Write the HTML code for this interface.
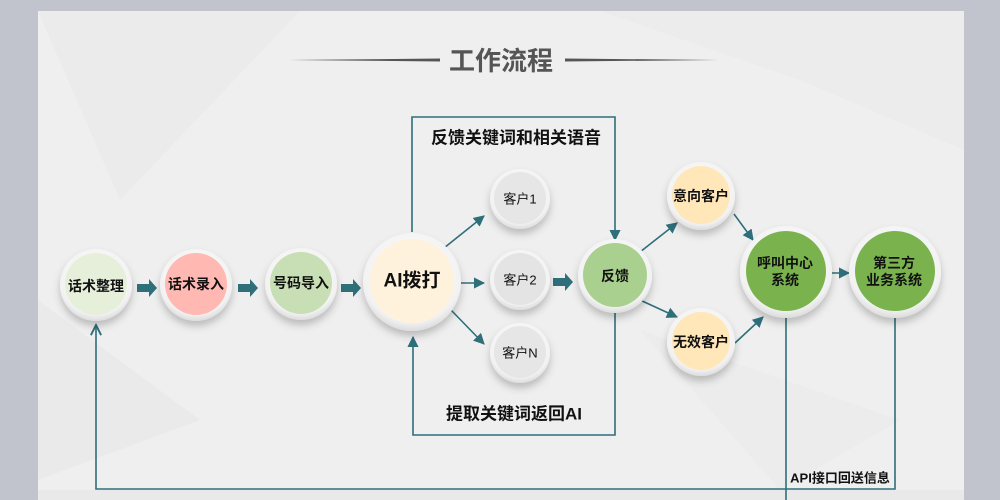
<!DOCTYPE html>
<html><head><meta charset="utf-8"><style>
html,body{margin:0;padding:0;width:1000px;height:500px;overflow:hidden;background:#c1c4cc;}
svg{display:block}
text{font-family:"Liberation Sans","Noto Sans CJK SC",sans-serif;font-weight:bold;fill:#111;text-anchor:middle;dominant-baseline:central}
</style></head><body>
<svg width="1000" height="500" viewBox="0 0 1000 500">
<defs>
<radialGradient id="ring" cx="50%" cy="40%" r="60%"><stop offset="0" stop-color="#fdfdfd"/><stop offset="0.85" stop-color="#f2f2f2"/><stop offset="1" stop-color="#dcdcdc"/></radialGradient>
<filter id="sh" x="-30%" y="-30%" width="160%" height="170%"><feDropShadow dx="0" dy="5" stdDeviation="4" flood-color="#000" flood-opacity="0.22"/></filter>
<marker id="ah" viewBox="0 0 10 10" refX="9" refY="5" markerWidth="7" markerHeight="7" orient="auto-start-reverse"><path d="M0,0 L10,5 L0,10 z" fill="#2e6f7a"/></marker>
<marker id="ao" viewBox="0 0 10 10" refX="9" refY="5" markerWidth="8" markerHeight="8" orient="auto"><path d="M1,1 L9,5 L1,9" fill="none" stroke="#2e6f7a" stroke-width="1.5"/></marker>
</defs>
<rect x="38" y="11" width="926" height="489" fill="#efefef"/>
<polygon points="38,11 300,11 120,200" fill="#ebebeb"/>
<polygon points="600,11 964,11 964,150 800,80" fill="#ececec"/>
<polygon points="38,300 200,420 38,480" fill="#eaeaea"/>
<polygon points="640,330 900,420 780,490" fill="#ececec"/>
<rect x="38" y="490" width="926" height="10" fill="#e9e9e9"/>
<!-- title -->
<polygon points="289,60 440,58.5 440,61.5" fill="#555"/>
<polygon points="565,60 718,58.5 718,61.5" fill="#555" transform="rotate(180 641.5 60)"/>
<text x="501" y="61" style="font-size:26px;fill:#555">工作流程</text>
<!-- connectors -->
<g stroke="#2e6f7a" stroke-width="1.6" fill="none">
<polyline points="412,232 412,117 615,117 615,240" marker-end="url(#ah)"/>
<polyline points="615,313 615,435 413,435 413,337" marker-end="url(#ah)"/>
<polyline points="895,318 895,489 96,489 96,325" marker-end="url(#ao)"/>
<line x1="786" y1="318" x2="786" y2="500"/>
<line x1="444" y1="248" x2="484" y2="216" marker-end="url(#ah)"/>
<line x1="455" y1="283" x2="484" y2="283" marker-end="url(#ah)"/>
<line x1="451" y1="310" x2="484" y2="344" marker-end="url(#ah)"/>
<line x1="640" y1="252" x2="677" y2="223" marker-end="url(#ah)"/>
<line x1="640" y1="300" x2="677" y2="317" marker-end="url(#ah)"/>
<line x1="734" y1="214" x2="753" y2="240" marker-end="url(#ah)"/>
<line x1="735" y1="343" x2="763" y2="317" marker-end="url(#ah)"/>
<line x1="830" y1="273" x2="849" y2="273" marker-end="url(#ah)"/>
</g>
<!-- block arrows -->
<g fill="#2e6f7a">
<polygon points="137,284 149,284 149,279 157,288 149,297 149,292 137,292"/>
<polygon points="238,284 250,284 250,279 258,288 250,297 250,292 238,292"/>
<polygon points="341,284 353,284 353,279 361,288 353,297 353,292 341,292"/>
<polygon points="553,278 565,278 565,273 573,282 565,291 565,286 553,286"/>
</g>
<!-- circles -->
<g filter="url(#sh)">
<circle cx="96" cy="285" r="36" fill="url(#ring)"/>
<circle cx="196" cy="285" r="36" fill="url(#ring)"/>
<circle cx="301" cy="284" r="36" fill="url(#ring)"/>
<circle cx="412" cy="282" r="49" fill="url(#ring)"/>
<circle cx="520" cy="199" r="30" fill="url(#ring)"/>
<circle cx="520" cy="280" r="30" fill="url(#ring)"/>
<circle cx="520" cy="353" r="30" fill="url(#ring)"/>
<circle cx="615" cy="276" r="37" fill="url(#ring)"/>
<circle cx="701" cy="196" r="34" fill="url(#ring)"/>
<circle cx="701" cy="342" r="34" fill="url(#ring)"/>
<circle cx="786" cy="272" r="46" fill="url(#ring)"/>
<circle cx="895" cy="272" r="46" fill="url(#ring)"/>
</g>
<circle cx="96" cy="284" r="31" fill="#e5efda"/>
<circle cx="196" cy="284" r="31" fill="#ffb8b2"/>
<circle cx="301" cy="283" r="31" fill="#c8deb4"/>
<circle cx="412" cy="281" r="42" fill="#fff2dc"/>
<circle cx="520" cy="198" r="26" fill="#e6e6e6"/>
<circle cx="520" cy="279" r="26" fill="#e4e4e4"/>
<circle cx="520" cy="352" r="26" fill="#e6e6e6"/>
<circle cx="615" cy="275" r="32" fill="#a9d08e"/>
<circle cx="701" cy="195" r="29" fill="#ffe7b9"/>
<circle cx="701" cy="341" r="29" fill="#ffe7b9"/>
<circle cx="786" cy="271" r="40" fill="#7ab24e"/>
<circle cx="895" cy="271" r="40" fill="#7ab24e"/>
<!-- labels -->
<g style="font-size:14px">
<text x="96" y="286">话术整理</text>
<text x="196" y="284">话术录入</text>
<text x="301" y="283">号码导入</text>
<text x="412" y="281" style="font-size:19px">AI拨打</text>
<text x="615" y="276">反馈</text>
<text x="701" y="196">意向客户</text>
<text x="701" y="342">无效客户</text>
<text x="785" y="263">呼叫中心</text>
<text x="785" y="280">系统</text>
<text x="894" y="263">第三方</text>
<text x="894" y="280">业务系统</text>
</g>
<text x="520" y="199" style="font-size:13px;font-weight:normal">客户1</text>
<text x="520" y="280" style="font-size:13px;font-weight:normal">客户2</text>
<text x="520" y="353" style="font-size:13px;font-weight:normal">客户N</text>
<text x="516" y="138" style="font-size:17px">反馈关键词和相关语音</text>
<text x="514" y="414" style="font-size:17px">提取关键词返回AI</text>
<text x="840" y="478" style="font-size:13px">API接口回送信息</text>
</svg>
</body></html>
